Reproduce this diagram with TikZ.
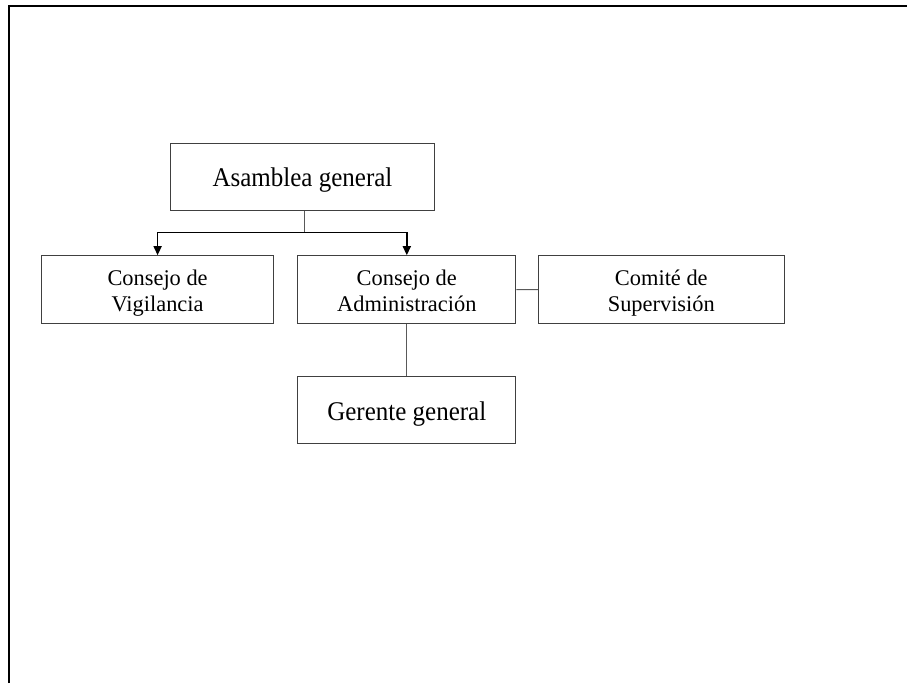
\documentclass[tikz,border=0pt]{standalone}
\usepackage{fontspec}
\setmainfont{Liberation Serif}
\usetikzlibrary{arrows.meta}
\tikzset{
  box/.style={draw=black!75, line width=1pt, inner sep=0pt, align=center, fill=white},
  bigtext/.style={font=\fontsize{25}{28}\selectfont, text height=30pt, text depth=9.6pt},
  smalltext/.style={font=\fontsize{22.4}{26}\selectfont, text height=50pt, text depth=5.6pt},
  thinlink/.style={draw=black!65, line width=1pt},
  arrowlink/.style={draw=black, line width=1.5pt, -{Triangle[length=9pt,width=8pt]}},
  frame/.style={draw=black, line width=2.2pt}
}
\begin{document}
\begin{tikzpicture}[x=1pt,y=-1pt]
\useasboundingbox (0,0) rectangle (907,683);
\draw[frame] (8.6,683) -- (8.6,5.7) -- (907,5.7);
\node[box, bigtext, minimum width=264pt, minimum height=67pt] (asam) at (302.5,176.5) {\scalebox{1}[1.08]{Asamblea general}};
\node[box, smalltext, minimum width=232pt, minimum height=67.6pt] (vig) at (157.6,289.5) {Consejo de\\Vigilancia};
\node[box, smalltext, minimum width=218pt, minimum height=67.6pt] (adm) at (406.8,289.5) {Consejo de\\Administración};
\node[box, smalltext, minimum width=246pt, minimum height=67.6pt] (com) at (661.3,289.6) {Comité de\\Supervisión};
\node[box, bigtext, minimum width=218pt, minimum height=66.6pt] (ger) at (406.8,410) {\scalebox{1}[1.08]{Gerente general}};
\coordinate (mid) at (304,232.7);
\draw[thinlink] (mid |- asam.south) -- (mid);
\draw[arrowlink] (mid) -| (vig.north);
\draw[arrowlink] (mid) -| (adm.north);
\draw[thinlink] (adm.east) -- (com.west);
\draw[thinlink] (adm.south) -- (ger.north);
\end{tikzpicture}
\end{document}
